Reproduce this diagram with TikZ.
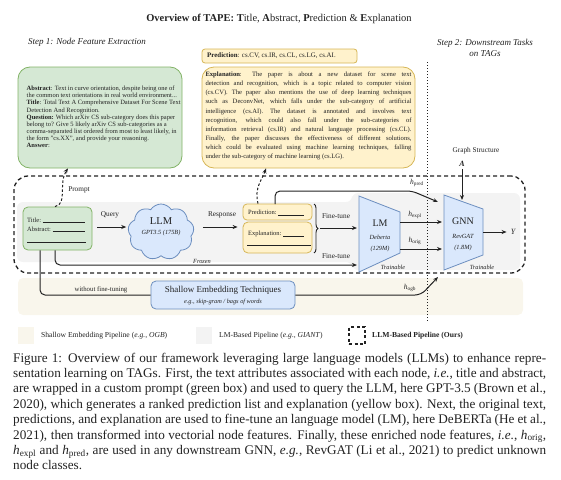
\documentclass[tikz,border=0pt]{standalone}
\usepackage{fontspec}
\setmainfont{Liberation Serif}
\usetikzlibrary{shapes.symbols,arrows.meta,decorations.pathreplacing}
\definecolor{gfill}{HTML}{D5E8D4}
\definecolor{gdraw}{HTML}{82B366}
\definecolor{yfill}{HTML}{FFF2CC}
\definecolor{ydraw}{HTML}{D6B656}
\definecolor{bfill}{HTML}{DAE8FC}
\definecolor{bdraw}{HTML}{6C8EBF}
\definecolor{greyreg}{HTML}{F3F3F3}
\definecolor{beige}{HTML}{F9F6EC}
\definecolor{ink}{HTML}{222222}
\newcommand{\fs}[2]{\fontsize{#1}{#2}\selectfont}
\newcommand{\hsub}[1]{\textit{h}\textsubscript{#1}}
\newcommand{\capl}[1]{\hbox to 533pt{#1}}
\newcommand{\expl}[1]{\hbox to 206pt{#1}}
\begin{document}
\begin{tikzpicture}[x=1pt,y=-1pt,
  every node/.style={inner sep=0pt, text=ink},
  tip/.style={-{Stealth[length=5pt,width=4pt]}},
  arr/.style={tip, line width=1pt, draw=ink},
  conn/.style={line width=1pt, draw=ink, rounded corners=5pt},
  darr/.style={tip, line width=1pt, draw=ink, dash pattern=on 2.5pt off 2pt},
  lbl/.style={font=\fs{7.3}{8.5}},
  hlab/.style={font=\fs{7.5}{9}},
  smallit/.style={font=\fs{6.3}{7.5}\itshape},
  bigt/.style={font=\fs{10}{12}},
  legfont/.style={font=\fs{7.6}{9}},
  gbox/.style={draw=gdraw, fill=gfill, line width=0.8pt},
  ybox/.style={draw=ydraw, fill=yfill, line width=0.8pt},
  bluebox/.style={draw=bdraw, fill=bfill, line width=0.8pt},
  dotline/.style={draw=ink, line width=0.8pt, dash pattern=on 1.2pt off 1.8pt}
]
\useasboundingbox (0,0) rectangle (561,479);

% ---------- background regions ----------
\fill[greyreg, rounded corners=6pt] (17,202) -- (352,202) -- (352,193) -- (520,193) -- (520,270) -- (352,270) -- (352,262) -- (17,262) -- cycle;
\node[fill=beige, rounded corners=5pt, minimum width=505pt, minimum height=37pt] (beigereg) at (270.5,296.5) {};
\node[draw=ink, dash pattern=on 4pt off 3pt, line width=1.3pt, rounded corners=14pt, minimum width=511pt, minimum height=97pt] (frame) at (269.5,224.5) {};

\coordinate (vtop) at (427,62);
\coordinate (vbot) at (427,322);
\draw[dotline] (vtop) -- (vbot);

% ---------- titles ----------
\node[font=\fs{10.5}{12}] (title) at (279,19) {\textbf{Overview of TAPE:} \textbf{T}itle, \textbf{A}bstract, \textbf{P}rediction \& \textbf{E}xplanation};
\node[font=\fs{9}{11}\itshape] (step1) at (87,42) {Step 1: Node Feature Extraction};
\node[font=\fs{9}{11}\itshape, align=center] (step2) at (485,47.5) {Step 2: Downstream Tasks\\on TAGs};

% ---------- prompt box ----------
\node[gbox, rounded corners=12pt, minimum width=164pt, minimum height=101pt] (gbig) at (100,117.5) {};
\node[font=\fs{6.5}{7.15}, align=left, anchor=west] (gtext) at (26.5,117) {%
\textbf{Abstract}: Text in curve orientation, despite being one of\\
the common text orientations in real world environment...\\
\textbf{Title}: Total Text A Comprehensive Dataset For Scene Text\\
Detection And Recognition.\\
\textbf{Question:} Which arXiv CS sub-category does this paper\\
belong to? Give 5 likely arXiv CS sub-categories as a\\
comma-separated list ordered from most to least likely, in\\
the form "cs.XX", and provide your reasoning.\\
\textbf{Answer}:};

% ---------- prediction / explanation ----------
\node[ybox, rounded corners=3pt, minimum width=155pt, minimum height=14pt] (pbig) at (279.5,56) {};
\node[font=\fs{6.9}{8}, anchor=west] (ptext) at (207,56) {\textbf{Prediction}: cs.CV, cs.IR, cs.CL, cs.LG, cs.AI.};
\node[ybox, rounded corners=12pt, minimum width=213pt, minimum height=101pt] (ebig) at (308.5,117.5) {};
\node[font=\fs{6.6}{9.1}, align=left] (etext) at (308.5,116) {%
\expl{\textbf{Explanation}: The paper is about a new dataset for scene text}\\
\expl{detection and recognition, which is a topic related to computer vision}\\
\expl{(cs.CV). The paper also mentions the use of deep learning techniques}\\
\expl{such as DeconvNet, which falls under the sub-category of artificial}\\
\expl{intelligence (cs.AI). The dataset is annotated and involves text}\\
\expl{recognition, which could also fall under the sub-categories of}\\
\expl{information retrieval (cs.IR) and natural language processing (cs.CL).}\\
\expl{Finally, the paper discusses the effectiveness of different solutions,}\\
\expl{which could be evaluated using machine learning techniques, falling}\\
\expl{under the sub-category of machine learning (cs.LG).\hfil}};

% ---------- pipeline ----------
\node[gbox, rounded corners=5pt, minimum width=69pt, minimum height=43pt] (sg) at (57.5,228.5) {};
\node[font=\fs{6.5}{8}, anchor=base west] (sgt1) at (27,222) {Title:~\rule[-0.8pt]{42pt}{0.4pt}};
\node[font=\fs{6.5}{8}, anchor=base west] (sgt2) at (27,231) {Abstract:~\rule[-0.8pt]{32pt}{0.4pt}};
\node[anchor=base west] (sgt3) at (27,242) {\rule{59pt}{0.4pt}};

\node[cloud, cloud puffs=9, cloud puff arc=115, cloud ignores aspect, minimum width=66pt, minimum height=56pt, draw=bdraw, fill=bfill, line width=0.8pt] (llm) at (161,232) {};
\node[font=\fs{10.5}{12}] (llmt) at (161,221) {LLM};
\node[smallit] (llms) at (161,233) {GPT3.5 (175B)};
\node[smallit] (frozen) at (202,261) {Frozen};

\node[ybox, rounded corners=4pt, minimum width=69pt, minimum height=16pt] (yp) at (277.5,212) {};
\node[ybox, rounded corners=5pt, minimum width=69pt, minimum height=31pt] (ye) at (277.5,237.5) {};
\node[font=\fs{6.5}{8}, anchor=base west] (ypt) at (248,214.5) {Prediction:~\rule[-0.8pt]{26pt}{0.4pt}};
\node[font=\fs{6.5}{8}, anchor=base west] (yet) at (248,235.5) {Explanation:~\rule[-0.8pt]{21pt}{0.4pt}};
\node[anchor=base west] (yet2) at (247,245) {\rule{64pt}{0.4pt}};

% LM trapezoid
\draw[bluebox] (359,196) coordinate (lmA) -- (400,212) coordinate (lmB) -- (400,253) coordinate (lmC) -- (359,272) coordinate (lmD) -- cycle;
\node[bigt] (lmt) at (380,223) {LM};
\node[smallit] (lms1) at (380,237) {Deberta};
\node[smallit] (lms2) at (380,249) {(129M)};
\node[smallit] (lmtr) at (393,267) {Trainable};
% GNN trapezoid
\draw[bluebox] (444,195) coordinate (gA) -- (483,209) coordinate (gB) -- (483,255) coordinate (gC) -- (444,270) coordinate (gD) -- cycle;
\node[bigt] (gnnt) at (463,221) {GNN};
\node[smallit] (gnns1) at (463,236) {RevGAT};
\node[smallit] (gnns2) at (463,248) {(1.8M)};
\node[smallit] (gnntr) at (482,267) {Trainable};

% shallow
\node[bluebox, rounded corners=5pt, minimum width=144pt, minimum height=28pt] (shallow) at (223,295) {};
\node[font=\fs{9}{11}] (shal1) at (223,290) {Shallow Embedding Techniques};
\node[smallit] (shal2) at (223,302) {e.g., skip-gram / bags of words};

% ports
\coordinate (lmi1) at (357,228);
\coordinate (lmi2) at (357,265);
\coordinate (lmo1) at (400,222);
\coordinate (lmo2) at (400,249);
\coordinate (gi0) at (438,202);
\coordinate (gi1) at (442,222);
\coordinate (gi2) at (442,249);
\coordinate (gi3) at (438,277);
\coordinate (go) at (483,232);
\coordinate (gtop) at (462,200);
\coordinate (bracetip) at (320,228);
\coordinate (hp0) at (275,204);

% connectors
\draw[arr, shorten <=5pt, shorten >=2pt] (sg.east |- 0,227) -- (llm.west |- 0,227);
\node[lbl] (qlab) at (110,215) {Query};
\draw[arr, shorten <=9pt, shorten >=5pt] (llm.east |- 0,227) -- (ye.west |- 0,227);
\node[lbl] (rlab) at (222,215) {Response};

\draw[decorate, decoration={brace, amplitude=4pt}, line width=0.9pt, draw=ink] (314,204) -- (314,253);
\draw[arr] (bracetip) -- (lmi1);
\node[lbl] (ft1) at (336,216) {Fine-tune};
\draw[conn, tip] (sg.south -| 55,0) |- (lmi2);
\node[lbl] (ft2) at (336,256) {Fine-tune};

\draw[conn, tip] (hp0) -- (275,191) -- (412,191) -- (gi0);
\node[hlab] (hpl) at (417,183) {\hsub{pred}};
\draw[arr] (lmo1) -- (gi1);
\node[hlab] (hel) at (415,215) {\hsub{expl}};
\draw[arr] (lmo2) -- (gi2);
\node[hlab] (hol) at (415,241) {\hsub{orig}};

\draw[conn] (sg.south -| 40,0) |- (shallow.west);
\node[font=\fs{6.8}{8}] (wft) at (101,290) {without fine-tuning};
\draw[conn, tip, rounded corners=6pt] (shallow.east) -- (421,295) -- (gi3);
\node[hlab] (hog) at (410,288) {\hsub{ogb}};

\draw[darr] (sg.north -| 55,0) .. controls (68,204) and (58,183) .. (gbig.south -| 68,0);
\node[lbl] (plab) at (79,190) {Prompt};
\draw[darr] (yp.north -| 258,0) .. controls (254,188) and (262,180) .. (ebig.south -| 266,0);

\node[lbl] (gs) at (476,151) {Graph Structure};
\node[font=\fs{8}{9}\bfseries\itshape] (Alab) at (462,164) {A};
\draw[arr, shorten <=2pt] (Alab.south) -- (gtop);
\node[font=\fs{8}{9}\itshape] (Ylab) at (513,232) {Y};
\draw[arr, shorten >=4pt] (go) -- (Ylab.west);

% legend
\node[fill=beige, minimum width=16pt, minimum height=17pt] (leg1) at (26,335.5) {};
\node[legfont, anchor=west] (leg1t) at (41,336) {Shallow Embedding Pipeline (\textit{e.g.}, \textit{OGB})};
\node[fill=greyreg, minimum width=16pt, minimum height=17pt] (leg2) at (204,335.5) {};
\node[legfont, anchor=west] (leg2t) at (219,336) {LM-Based Pipeline (\textit{e.g.}, \textit{GIANT})};
\node[draw=ink, dash pattern=on 3pt off 2.5pt, line width=1.1pt, minimum width=16pt, minimum height=17pt] (leg3) at (357,335.5) {};
\node[legfont, anchor=west, font=\fs{7.6}{9}\bfseries] (leg3t) at (372,336) {LLM-Based Pipeline (Ours)};

% caption
\node[anchor=north west, align=left, font=\fs{13.2}{15.4}] (caption) at (13,352.5) {%
\capl{Figure 1: Overview of our framework leveraging large language models (LLMs) to enhance repre-}\\
\capl{sentation learning on TAGs. First, the text attributes associated with each node, \textit{i.e.}, title and abstract,}\\
\capl{are wrapped in a custom prompt (green box) and used to query the LLM, here GPT-3.5 (Brown et al.,}\\
\capl{2020), which generates a ranked prediction list and explanation (yellow box). Next, the original text,}\\
\capl{predictions, and explanation are used to fine-tune an language model (LM), here DeBERTa (He et al.,}\\
\capl{2021), then transformed into vectorial node features. Finally, these enriched node features, \textit{i.e.}, \hsub{orig},}\\
\capl{\hsub{expl} and \hsub{pred}, are used in any downstream GNN, \textit{e.g.}, RevGAT (Li et al., 2021) to predict unknown}\\
node classes.};
\end{tikzpicture}
\end{document}
